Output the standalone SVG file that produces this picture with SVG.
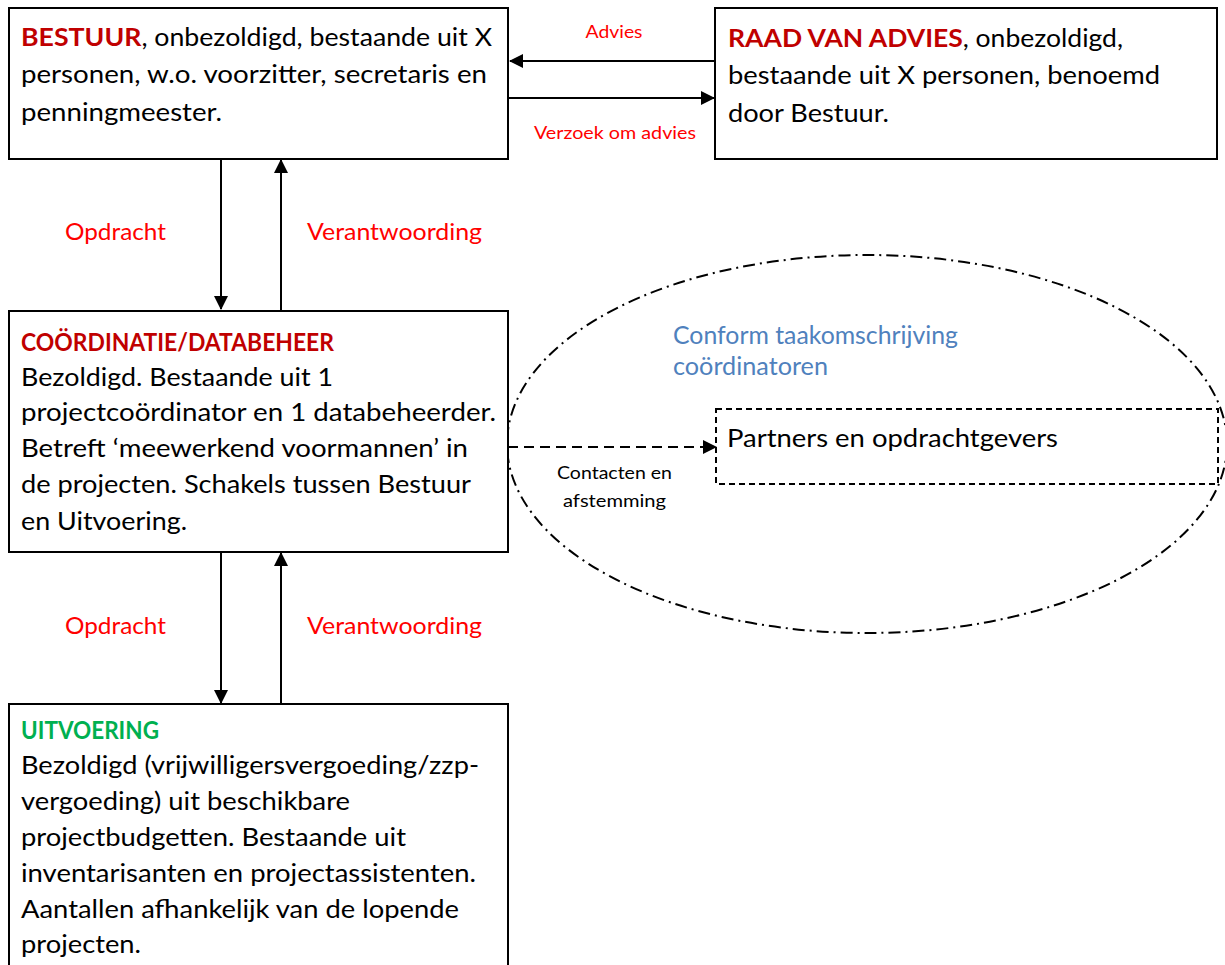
<svg xmlns="http://www.w3.org/2000/svg" width="1225" height="965" viewBox="0 0 1225 965">
<style>
.box{fill:#fff;stroke:#000;stroke-width:2}
.t{font-family:Lato,"Open Sans",sans-serif;font-size:25px;fill:#000}
.b{font-weight:bold}
.dr{fill:#c00000}
.gr{fill:#00b050}
.lbl{font-family:Lato,"Open Sans",sans-serif;font-size:23px;fill:#ff0000}
.sm{font-family:Lato,"Open Sans",sans-serif;font-size:17px}
.blue{fill:#4f81bd}
.con{stroke:#000;stroke-width:2;fill:none}
</style>
<defs>
<marker id="ah" markerWidth="14" markerHeight="14" refX="13" refY="7" orient="auto" markerUnits="userSpaceOnUse">
<path d="M0,0 L14,7 L0,14 Z" fill="#000"/>
</marker>
</defs>
<g id="ellipse-group">
<ellipse cx="867" cy="444" rx="360" ry="189" fill="none" stroke="#000" stroke-width="2" stroke-dasharray="12 5 2 5"/>
<text class="t blue" x="673" y="344" textLength="285" lengthAdjust="spacingAndGlyphs">Conform taakomschrijving</text>
<text class="t blue" x="673" y="375" textLength="155" lengthAdjust="spacingAndGlyphs">coördinatoren</text>
</g>
<g id="connectors">
<line class="con" x1="715" y1="61" x2="510" y2="61" stroke-width="2.6" marker-end="url(#ah)"/>
<line class="con" x1="509" y1="98" x2="714" y2="98" stroke-width="2.6" marker-end="url(#ah)"/>
<line class="con" x1="221" y1="159" x2="221" y2="309" marker-end="url(#ah)"/>
<line class="con" x1="281" y1="310" x2="281" y2="160" marker-end="url(#ah)"/>
<line class="con" x1="221" y1="552" x2="221" y2="703" marker-end="url(#ah)"/>
<line class="con" x1="281" y1="704" x2="281" y2="553" marker-end="url(#ah)"/>
<line class="con" x1="508" y1="447" x2="716" y2="447" stroke-dasharray="10 6" marker-end="url(#ah)"/>
<text class="sm" x="614" y="38" text-anchor="middle" fill="#ff0000" textLength="57" lengthAdjust="spacingAndGlyphs">Advies</text>
<text class="sm" x="534" y="139" fill="#ff0000" textLength="162" lengthAdjust="spacingAndGlyphs">Verzoek om advies</text>
<text class="lbl" x="65" y="240" textLength="101" lengthAdjust="spacingAndGlyphs">Opdracht</text>
<text class="lbl" x="307" y="240" textLength="175" lengthAdjust="spacingAndGlyphs">Verantwoording</text>
<text class="lbl" x="65" y="634" textLength="101" lengthAdjust="spacingAndGlyphs">Opdracht</text>
<text class="lbl" x="307" y="634" textLength="175" lengthAdjust="spacingAndGlyphs">Verantwoording</text>
<text class="sm" x="557" y="479" fill="#000" textLength="115" lengthAdjust="spacingAndGlyphs">Contacten en</text>
<text class="sm" x="563" y="507" fill="#000" textLength="103" lengthAdjust="spacingAndGlyphs">afstemming</text>
</g>
<g id="bestuur">
<rect class="box" x="9" y="8" width="499" height="151"/>
<text class="t" x="21" y="46" textLength="471" lengthAdjust="spacingAndGlyphs"><tspan class="b dr">BESTUUR</tspan>, onbezoldigd, bestaande uit X</text>
<text class="t" x="21" y="83" textLength="466" lengthAdjust="spacingAndGlyphs">personen, w.o. voorzitter, secretaris en</text>
<text class="t" x="21" y="121" textLength="201" lengthAdjust="spacingAndGlyphs">penningmeester.</text>
</g>
<g id="raad">
<rect class="box" x="715" y="8" width="502" height="151"/>
<text class="t" x="728" y="47" textLength="395" lengthAdjust="spacingAndGlyphs"><tspan class="b dr">RAAD VAN ADVIES</tspan>, onbezoldigd,</text>
<text class="t" x="728" y="84" textLength="432" lengthAdjust="spacingAndGlyphs">bestaande uit X personen, benoemd</text>
<text class="t" x="728" y="122" textLength="161" lengthAdjust="spacingAndGlyphs">door Bestuur.</text>
</g>
<g id="coordinatie">
<rect class="box" x="9" y="311" width="499" height="241"/>
<text class="t b dr" x="21" y="351" font-size="22" textLength="313" lengthAdjust="spacingAndGlyphs">COÖRDINATIE/DATABEHEER</text>
<text class="t" x="21" y="386" textLength="312" lengthAdjust="spacingAndGlyphs">Bezoldigd. Bestaande uit 1</text>
<text class="t" x="21" y="421" textLength="475" lengthAdjust="spacingAndGlyphs">projectcoördinator en 1 databeheerder.</text>
<text class="t" x="21" y="457" textLength="447" lengthAdjust="spacingAndGlyphs">Betreft ‘meewerkend voormannen’ in</text>
<text class="t" x="21" y="493" textLength="450" lengthAdjust="spacingAndGlyphs">de projecten. Schakels tussen Bestuur</text>
<text class="t" x="21" y="530" textLength="166" lengthAdjust="spacingAndGlyphs">en Uitvoering.</text>
</g>
<g id="partners">
<rect x="716" y="409" width="502" height="75" fill="none" stroke="#000" stroke-width="2" stroke-dasharray="6 4"/>
<text class="t" x="727" y="447" textLength="331" lengthAdjust="spacingAndGlyphs">Partners en opdrachtgevers</text>
</g>
<g id="uitvoering">
<rect class="box" x="9" y="704" width="499" height="280"/>
<text class="t b gr" x="21" y="739" font-size="22" textLength="138" lengthAdjust="spacingAndGlyphs">UITVOERING</text>
<text class="t" x="21" y="774" textLength="458" lengthAdjust="spacingAndGlyphs">Bezoldigd (vrijwilligersvergoeding/zzp-</text>
<text class="t" x="21" y="810" textLength="329" lengthAdjust="spacingAndGlyphs">vergoeding) uit beschikbare</text>
<text class="t" x="21" y="846" textLength="385" lengthAdjust="spacingAndGlyphs">projectbudgetten. Bestaande uit</text>
<text class="t" x="21" y="882" textLength="455" lengthAdjust="spacingAndGlyphs">inventarisanten en projectassistenten.</text>
<text class="t" x="21" y="918" textLength="438" lengthAdjust="spacingAndGlyphs">Aantallen afhankelijk van de lopende</text>
<text class="t" x="21" y="953" textLength="120" lengthAdjust="spacingAndGlyphs">projecten.</text>
</g>
</svg>
